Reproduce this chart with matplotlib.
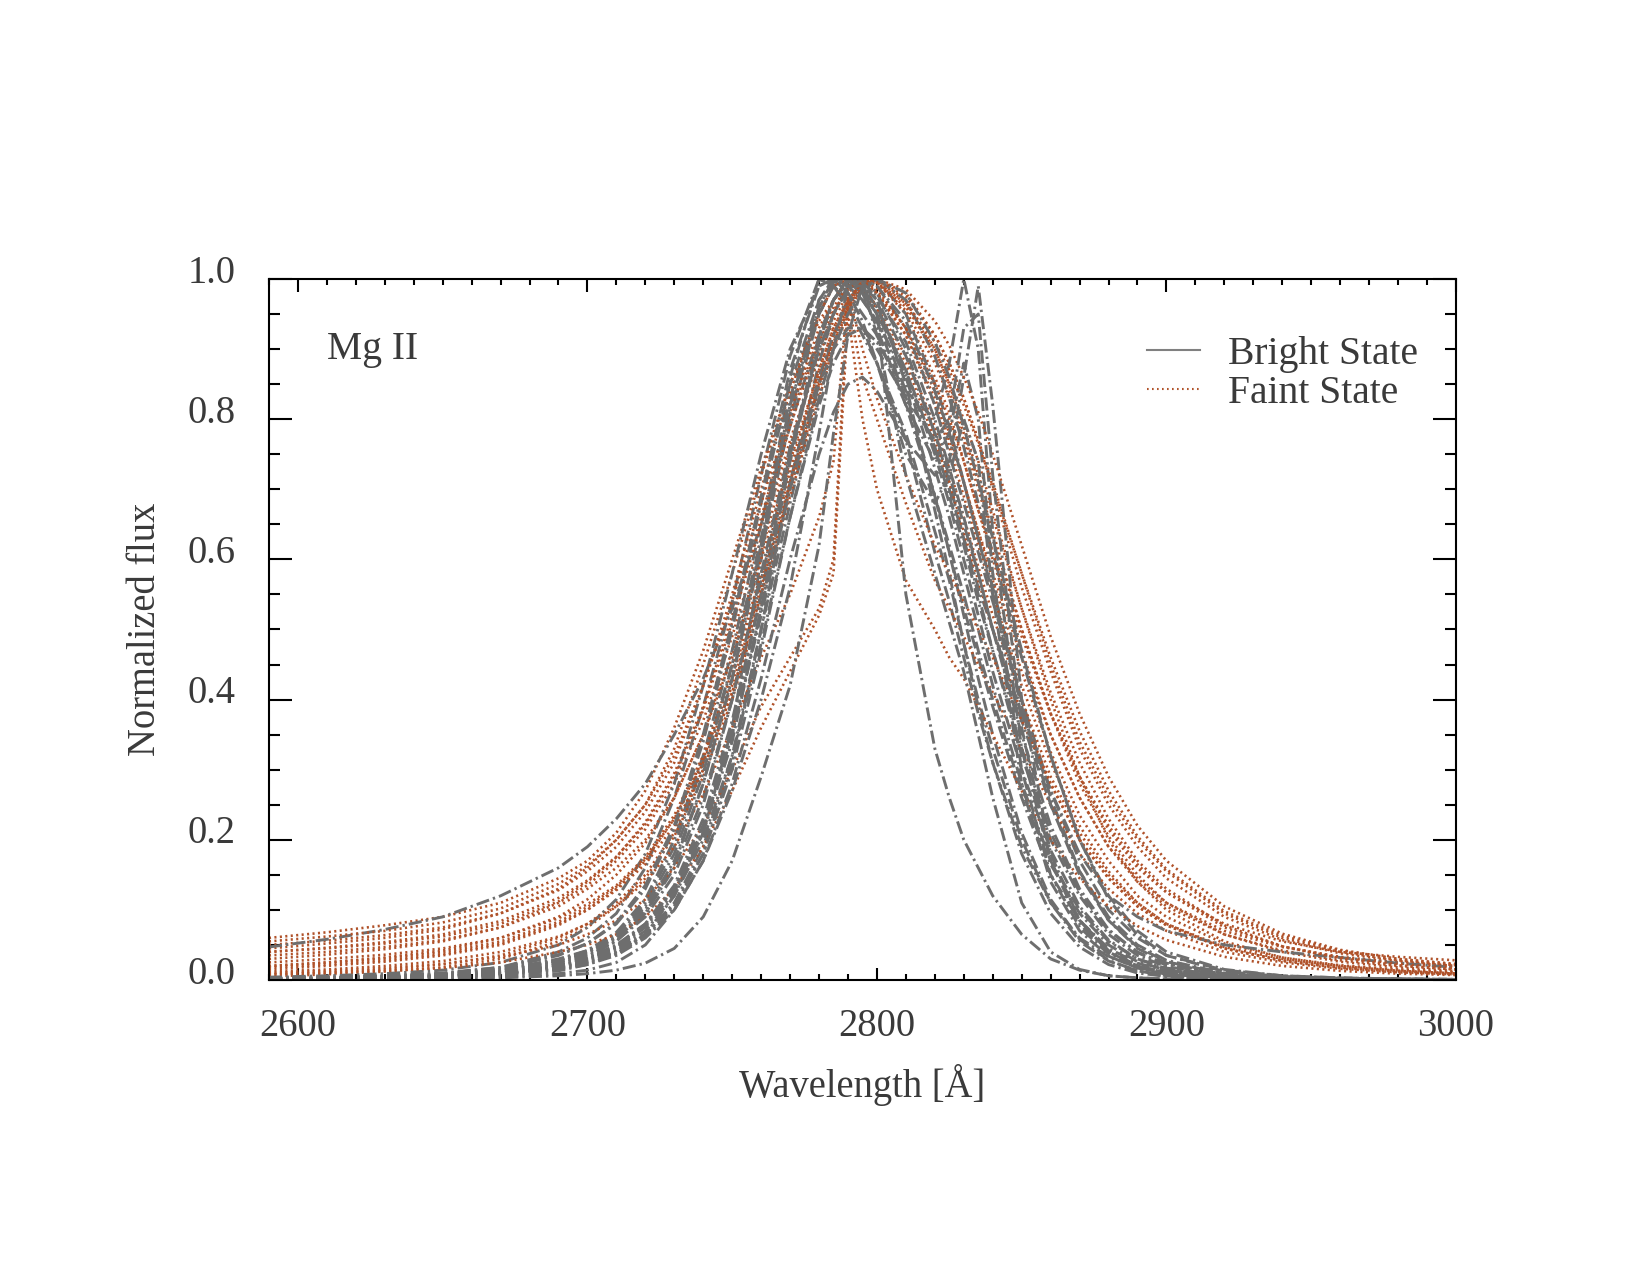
import matplotlib
matplotlib.use("Agg")
import matplotlib.pyplot as plt
from matplotlib.lines import Line2D
from matplotlib.ticker import MultipleLocator
from matplotlib.transforms import ScaledTranslation

plt.rcParams["font.family"] = ["Liberation Serif", "DejaVu Serif"]

GRAY = "#6e6e6e"
ORANGE = "#b0522a"
TEXT = "#3a3a3a"

# wavelength grid (Angstrom) shared by every profile
wave = [2590, 2610, 2630, 2650, 2670, 2690, 2700, 2710, 2720, 2730, 2740, 2750,
        2760, 2770, 2780, 2785, 2790, 2795, 2800, 2810, 2820, 2825, 2830, 2835,
        2840, 2850, 2860, 2870, 2880, 2890, 2900, 2920, 2940, 2960, 2980, 3000]

# bright state profiles (normalized flux)
b00 = [0.002, 0.003, 0.005, 0.008, 0.014, 0.03, 0.042, 0.065, 0.11, 0.19, 0.31, 0.45,
       0.62, 0.81, 0.95, 0.99, 1.0, 0.99, 0.96, 0.86, 0.73, 0.66, 0.58, 0.50,
       0.42, 0.28, 0.17, 0.10, 0.055, 0.03, 0.017, 0.006, 0.003, 0.0015, 0.001, 0.0005]
b01 = [0.002, 0.003, 0.005, 0.009, 0.018, 0.04, 0.06, 0.095, 0.16, 0.26, 0.39, 0.54,
       0.72, 0.89, 1.0, 0.99, 0.97, 0.93, 0.88, 0.77, 0.61, 0.54, 0.46, 0.38,
       0.31, 0.19, 0.11, 0.06, 0.033, 0.018, 0.01, 0.004, 0.002, 0.001, 0.0005, 0.0003]
b02 = [0.001, 0.002, 0.003, 0.005, 0.009, 0.018, 0.026, 0.04, 0.065, 0.11, 0.19, 0.32,
       0.50, 0.68, 0.85, 0.92, 0.97, 0.995, 1.0, 0.95, 0.85, 0.79, 0.71, 0.63,
       0.56, 0.40, 0.26, 0.155, 0.085, 0.045, 0.024, 0.008, 0.003, 0.0015, 0.001, 0.0005]
b03 = [0.002, 0.003, 0.004, 0.007, 0.013, 0.028, 0.042, 0.068, 0.115, 0.20, 0.32, 0.47,
       0.65, 0.83, 0.97, 1.0, 0.99, 0.97, 0.94, 0.83, 0.69, 0.61, 0.53, 0.46,
       0.39, 0.26, 0.15, 0.085, 0.045, 0.024, 0.013, 0.005, 0.002, 0.001, 0.0006, 0.0003]
b04 = [0.003, 0.004, 0.006, 0.009, 0.015, 0.028, 0.04, 0.06, 0.095, 0.16, 0.26, 0.40,
       0.57, 0.75, 0.90, 0.95, 0.99, 1.0, 0.99, 0.93, 0.82, 0.75, 0.68, 0.61,
       0.54, 0.40, 0.27, 0.17, 0.10, 0.06, 0.035, 0.014, 0.006, 0.003, 0.0015, 0.001]
b05 = [0.001, 0.001, 0.002, 0.003, 0.006, 0.013, 0.022, 0.037, 0.065, 0.12, 0.21, 0.36,
       0.60, 0.86, 1.0, 0.99, 0.96, 0.92, 0.88, 0.78, 0.64, 0.57, 0.48, 0.40,
       0.33, 0.20, 0.11, 0.055, 0.027, 0.013, 0.006, 0.002, 0.001, 0.0005, 0.0003, 0.0002]
b06 = [0.001, 0.002, 0.003, 0.004, 0.008, 0.016, 0.024, 0.038, 0.062, 0.105, 0.18, 0.31,
       0.50, 0.71, 0.88, 0.95, 0.99, 1.0, 0.98, 0.90, 0.78, 0.71, 0.63, 0.55,
       0.47, 0.32, 0.20, 0.12, 0.065, 0.035, 0.019, 0.007, 0.003, 0.0015, 0.001, 0.0005]
b07 = [0.004, 0.006, 0.009, 0.014, 0.025, 0.05, 0.075, 0.115, 0.18, 0.28, 0.42, 0.58,
       0.75, 0.90, 0.99, 1.0, 0.99, 0.97, 0.94, 0.86, 0.76, 0.70, 0.63, 0.56,
       0.50, 0.37, 0.25, 0.155, 0.09, 0.05, 0.028, 0.01, 0.004, 0.002, 0.001, 0.0006]
b08 = [0.002, 0.003, 0.004, 0.006, 0.011, 0.022, 0.032, 0.05, 0.08, 0.13, 0.215, 0.35,
       0.53, 0.71, 0.86, 0.92, 0.965, 0.99, 1.0, 0.97, 0.89, 0.83, 0.76, 0.68,
       0.61, 0.46, 0.32, 0.20, 0.12, 0.07, 0.04, 0.015, 0.006, 0.003, 0.0015, 0.001]
b09 = [0.002, 0.002, 0.003, 0.005, 0.01, 0.022, 0.034, 0.055, 0.095, 0.165, 0.28, 0.43,
       0.61, 0.80, 0.95, 0.99, 1.0, 0.98, 0.95, 0.84, 0.69, 0.61, 0.52, 0.43,
       0.35, 0.21, 0.115, 0.058, 0.028, 0.013, 0.006, 0.002, 0.001, 0.0005, 0.0003, 0.0002]
b10 = [0.047, 0.058, 0.072, 0.09, 0.12, 0.16, 0.19, 0.23, 0.28, 0.35, 0.43, 0.53,
       0.65, 0.79, 0.92, 0.97, 1.0, 0.99, 0.97, 0.89, 0.78, 0.72, 0.65, 0.58,
       0.50, 0.38, 0.27, 0.18, 0.12, 0.09, 0.07, 0.05, 0.04, 0.032, 0.024, 0.018]
b11 = [0.003, 0.004, 0.006, 0.01, 0.018, 0.036, 0.052, 0.08, 0.13, 0.215, 0.34, 0.50,
       0.68, 0.85, 0.97, 1.0, 0.995, 0.98, 0.95, 0.87, 0.76, 0.69, 0.62, 0.54,
       0.47, 0.33, 0.21, 0.125, 0.07, 0.04, 0.022, 0.008, 0.003, 0.0015, 0.001, 0.0005]
b12 = [0.002, 0.002, 0.003, 0.005, 0.01, 0.02, 0.03, 0.047, 0.078, 0.13, 0.22, 0.36,
       0.55, 0.75, 0.91, 0.97, 0.995, 1.0, 0.97, 0.85, 0.67, 0.58, 0.48, 0.39,
       0.31, 0.18, 0.095, 0.047, 0.022, 0.01, 0.005, 0.0015, 0.0008, 0.0004, 0.0002, 0.0001]
b19 = [0.002, 0.003, 0.004, 0.007, 0.012, 0.025, 0.036, 0.056, 0.09, 0.15, 0.25, 0.40,
       0.58, 0.76, 0.90, 0.95, 0.985, 1.0, 0.99, 0.94, 0.84, 0.78, 0.71, 0.63,
       0.55, 0.39, 0.25, 0.15, 0.085, 0.047, 0.026, 0.009, 0.004, 0.002, 0.001, 0.0005]
b20 = [0.002, 0.003, 0.005, 0.008, 0.016, 0.035, 0.052, 0.082, 0.135, 0.22, 0.35, 0.51,
       0.69, 0.87, 0.99, 1.0, 0.98, 0.95, 0.92, 0.82, 0.69, 0.62, 0.55, 0.47,
       0.40, 0.27, 0.165, 0.095, 0.05, 0.026, 0.014, 0.005, 0.002, 0.001, 0.0005, 0.0003]
b21 = [0.001, 0.002, 0.003, 0.005, 0.009, 0.019, 0.028, 0.045, 0.075, 0.125, 0.21, 0.34,
       0.53, 0.74, 0.91, 0.97, 1.0, 0.995, 0.975, 0.91, 0.80, 0.73, 0.66, 0.58,
       0.50, 0.35, 0.22, 0.13, 0.072, 0.039, 0.021, 0.007, 0.003, 0.0015, 0.001, 0.0005]
b23 = [0.002, 0.003, 0.004, 0.007, 0.013, 0.027, 0.04, 0.063, 0.105, 0.18, 0.295, 0.45,
       0.63, 0.82, 0.96, 0.995, 1.0, 0.985, 0.96, 0.87, 0.75, 0.68, 0.60, 0.52,
       0.44, 0.30, 0.185, 0.105, 0.057, 0.03, 0.016, 0.006, 0.0025, 0.0012, 0.0006, 0.0003]
b24 = [0.001, 0.002, 0.003, 0.004, 0.008, 0.017, 0.025, 0.04, 0.065, 0.108, 0.18, 0.30,
       0.47, 0.66, 0.83, 0.90, 0.95, 0.985, 1.0, 0.98, 0.91, 0.86, 0.79, 0.71,
       0.63, 0.47, 0.32, 0.20, 0.115, 0.064, 0.035, 0.012, 0.005, 0.0025, 0.0012, 0.0006]
# bright profiles with a second narrow peak near 2830 A
b13 = [0.001, 0.002, 0.003, 0.005, 0.009, 0.018, 0.027, 0.042, 0.07, 0.12, 0.20, 0.32,
       0.48, 0.66, 0.82, 0.88, 0.92, 0.93, 0.91, 0.84, 0.80, 0.88, 1.0, 0.90,
       0.64, 0.33, 0.17, 0.085, 0.042, 0.02, 0.01, 0.004, 0.002, 0.001, 0.0005, 0.0003]
b14 = [0.001, 0.002, 0.003, 0.004, 0.007, 0.015, 0.022, 0.035, 0.06, 0.10, 0.17, 0.28,
       0.43, 0.60, 0.75, 0.81, 0.85, 0.86, 0.84, 0.77, 0.72, 0.74, 0.86, 0.99,
       0.82, 0.40, 0.18, 0.085, 0.04, 0.02, 0.01, 0.004, 0.002, 0.001, 0.0005, 0.0003]
b15 = [0.002, 0.002, 0.003, 0.005, 0.01, 0.02, 0.03, 0.048, 0.08, 0.135, 0.23, 0.37,
       0.55, 0.75, 0.92, 0.97, 1.0, 0.98, 0.93, 0.82, 0.74, 0.78, 0.88, 0.80,
       0.58, 0.30, 0.15, 0.075, 0.037, 0.018, 0.009, 0.003, 0.0015, 0.001, 0.0005, 0.0003]
b16 = [0.002, 0.003, 0.004, 0.006, 0.012, 0.025, 0.038, 0.06, 0.10, 0.17, 0.28, 0.43,
       0.62, 0.82, 0.96, 1.0, 0.98, 0.94, 0.88, 0.75, 0.68, 0.72, 0.80, 0.74,
       0.55, 0.28, 0.14, 0.07, 0.034, 0.017, 0.008, 0.003, 0.0015, 0.001, 0.0005, 0.0003]
b22 = [0.001, 0.002, 0.003, 0.005, 0.009, 0.019, 0.029, 0.046, 0.077, 0.13, 0.22, 0.35,
       0.52, 0.70, 0.85, 0.90, 0.93, 0.93, 0.90, 0.83, 0.77, 0.80, 0.93, 0.95,
       0.72, 0.36, 0.17, 0.08, 0.04, 0.02, 0.01, 0.004, 0.002, 0.001, 0.0005, 0.0003]
# narrow bright profiles
b17 = [0.0, 0.001, 0.001, 0.002, 0.004, 0.009, 0.014, 0.025, 0.05, 0.10, 0.17, 0.27,
       0.40, 0.56, 0.78, 0.90, 0.99, 0.99, 0.92, 0.72, 0.58, 0.51, 0.44, 0.35,
       0.26, 0.11, 0.04, 0.015, 0.006, 0.003, 0.0015, 0.0005, 0.0002, 0.0001, 0.0, 0.0]
b18 = [0.0, 0.0005, 0.001, 0.0015, 0.003, 0.006, 0.009, 0.014, 0.024, 0.045, 0.09, 0.17,
       0.29, 0.42, 0.62, 0.78, 0.92, 0.99, 0.95, 0.55, 0.33, 0.26, 0.20, 0.16,
       0.12, 0.065, 0.03, 0.014, 0.006, 0.003, 0.0015, 0.0005, 0.0002, 0.0001, 0.0, 0.0]

# faint state profiles (normalized flux)
f01 = [0.03, 0.036, 0.044, 0.055, 0.075, 0.11, 0.135, 0.17, 0.215, 0.28, 0.37, 0.49,
       0.63, 0.77, 0.89, 0.94, 0.98, 1.0, 0.995, 0.95, 0.86, 0.81, 0.74, 0.67,
       0.60, 0.47, 0.35, 0.26, 0.19, 0.14, 0.105, 0.065, 0.042, 0.028, 0.02, 0.015]
f02 = [0.06, 0.068, 0.078, 0.09, 0.11, 0.145, 0.17, 0.21, 0.27, 0.36, 0.47, 0.60,
       0.73, 0.85, 0.94, 0.97, 1.0, 0.995, 0.98, 0.92, 0.83, 0.77, 0.71, 0.64,
       0.58, 0.46, 0.35, 0.26, 0.19, 0.145, 0.11, 0.07, 0.047, 0.033, 0.025, 0.02]
f03 = [0.008, 0.011, 0.015, 0.022, 0.035, 0.06, 0.08, 0.11, 0.15, 0.21, 0.30, 0.41,
       0.55, 0.70, 0.84, 0.90, 0.95, 0.99, 1.0, 0.97, 0.90, 0.85, 0.79, 0.72,
       0.66, 0.53, 0.40, 0.29, 0.20, 0.14, 0.10, 0.055, 0.032, 0.02, 0.013, 0.009]
f04 = [0.02, 0.025, 0.032, 0.042, 0.06, 0.09, 0.115, 0.15, 0.195, 0.26, 0.35, 0.47,
       0.61, 0.76, 0.89, 0.95, 0.99, 1.0, 0.98, 0.92, 0.82, 0.76, 0.69, 0.62,
       0.55, 0.42, 0.31, 0.22, 0.155, 0.11, 0.08, 0.045, 0.027, 0.017, 0.012, 0.008]
f05 = [0.015, 0.02, 0.026, 0.035, 0.05, 0.078, 0.10, 0.13, 0.17, 0.23, 0.315, 0.43,
       0.57, 0.72, 0.86, 0.92, 0.96, 0.99, 1.0, 0.98, 0.92, 0.88, 0.83, 0.77,
       0.70, 0.56, 0.44, 0.33, 0.25, 0.19, 0.145, 0.09, 0.057, 0.038, 0.027, 0.02]
f06 = [0.045, 0.052, 0.06, 0.072, 0.095, 0.13, 0.16, 0.20, 0.25, 0.33, 0.45, 0.58,
       0.72, 0.85, 0.95, 0.99, 1.0, 0.99, 0.96, 0.89, 0.79, 0.73, 0.66, 0.59,
       0.52, 0.40, 0.29, 0.21, 0.15, 0.11, 0.08, 0.047, 0.03, 0.02, 0.014, 0.01]
f07 = [0.005, 0.008, 0.012, 0.018, 0.03, 0.055, 0.075, 0.105, 0.145, 0.205, 0.29, 0.40,
       0.54, 0.69, 0.83, 0.90, 0.96, 1.0, 0.995, 0.955, 0.88, 0.83, 0.77, 0.70,
       0.63, 0.50, 0.38, 0.29, 0.215, 0.16, 0.125, 0.08, 0.055, 0.04, 0.033, 0.028]
f08 = [0.04, 0.045, 0.052, 0.062, 0.08, 0.112, 0.14, 0.175, 0.225, 0.295, 0.39, 0.52,
       0.66, 0.80, 0.92, 0.96, 0.99, 1.0, 0.985, 0.93, 0.84, 0.78, 0.71, 0.64,
       0.57, 0.44, 0.325, 0.235, 0.17, 0.12, 0.09, 0.052, 0.032, 0.021, 0.015, 0.011]
f09 = [0.025, 0.03, 0.036, 0.045, 0.06, 0.088, 0.108, 0.135, 0.175, 0.235, 0.32, 0.44,
       0.58, 0.73, 0.87, 0.93, 0.97, 0.995, 1.0, 0.965, 0.89, 0.84, 0.78, 0.71,
       0.64, 0.50, 0.38, 0.28, 0.205, 0.15, 0.11, 0.065, 0.04, 0.026, 0.018, 0.013]
f10 = [0.05, 0.056, 0.064, 0.075, 0.095, 0.128, 0.155, 0.19, 0.24, 0.31, 0.42, 0.55,
       0.70, 0.84, 0.95, 0.99, 1.0, 0.985, 0.955, 0.88, 0.77, 0.71, 0.64, 0.57,
       0.50, 0.38, 0.28, 0.20, 0.145, 0.105, 0.078, 0.045, 0.028, 0.018, 0.013, 0.009]
f14 = [0.035, 0.04, 0.047, 0.057, 0.075, 0.105, 0.13, 0.16, 0.20, 0.26, 0.35, 0.46,
       0.60, 0.74, 0.87, 0.93, 0.97, 0.995, 1.0, 0.975, 0.92, 0.88, 0.83, 0.77,
       0.71, 0.58, 0.45, 0.34, 0.26, 0.20, 0.155, 0.095, 0.06, 0.04, 0.028, 0.021]
f15 = [0.018, 0.022, 0.028, 0.037, 0.052, 0.08, 0.10, 0.128, 0.165, 0.22, 0.30, 0.41,
       0.55, 0.70, 0.85, 0.91, 0.96, 1.0, 0.995, 0.96, 0.90, 0.85, 0.80, 0.74,
       0.67, 0.53, 0.41, 0.31, 0.23, 0.17, 0.13, 0.078, 0.048, 0.031, 0.021, 0.015]
f16 = [0.055, 0.062, 0.07, 0.082, 0.102, 0.137, 0.163, 0.20, 0.25, 0.32, 0.42, 0.54,
       0.68, 0.81, 0.93, 0.97, 1.0, 0.995, 0.98, 0.93, 0.85, 0.80, 0.74, 0.67,
       0.61, 0.49, 0.38, 0.29, 0.22, 0.165, 0.125, 0.075, 0.048, 0.032, 0.023, 0.017]
f17 = [0.02, 0.025, 0.031, 0.04, 0.055, 0.083, 0.104, 0.133, 0.172, 0.23, 0.31, 0.42,
       0.56, 0.71, 0.85, 0.91, 0.955, 0.99, 1.0, 0.985, 0.94, 0.905, 0.86, 0.81,
       0.75, 0.62, 0.49, 0.38, 0.29, 0.22, 0.17, 0.105, 0.066, 0.043, 0.03, 0.022]
f18 = [0.04, 0.046, 0.054, 0.065, 0.084, 0.117, 0.142, 0.176, 0.222, 0.29, 0.385, 0.51,
       0.65, 0.79, 0.91, 0.955, 0.985, 1.0, 0.995, 0.965, 0.91, 0.87, 0.82, 0.765,
       0.705, 0.58, 0.46, 0.355, 0.27, 0.205, 0.158, 0.098, 0.063, 0.042, 0.03, 0.023]
# faint profiles with a narrow core on a broad base
f11 = [0.01, 0.013, 0.017, 0.023, 0.033, 0.05, 0.065, 0.085, 0.115, 0.16, 0.22, 0.30,
       0.39, 0.46, 0.53, 0.60, 0.97, 0.86, 0.80, 0.68, 0.57, 0.53, 0.49, 0.45,
       0.41, 0.33, 0.25, 0.18, 0.13, 0.095, 0.07, 0.04, 0.025, 0.016, 0.011, 0.008]
f12 = [0.008, 0.01, 0.013, 0.017, 0.025, 0.04, 0.05, 0.065, 0.09, 0.13, 0.19, 0.27,
       0.36, 0.44, 0.52, 0.58, 0.95, 0.80, 0.70, 0.57, 0.50, 0.46, 0.43, 0.39,
       0.35, 0.27, 0.20, 0.145, 0.105, 0.077, 0.057, 0.033, 0.02, 0.013, 0.009, 0.007]
f13 = [0.012, 0.015, 0.02, 0.027, 0.04, 0.062, 0.08, 0.105, 0.14, 0.19, 0.265, 0.36,
       0.46, 0.55, 0.66, 0.74, 0.98, 0.90, 0.83, 0.72, 0.62, 0.58, 0.54, 0.50,
       0.46, 0.37, 0.28, 0.20, 0.145, 0.105, 0.078, 0.045, 0.028, 0.018, 0.012, 0.009]

bright = [b00, b01, b02, b03, b04, b05, b06, b07, b08, b09, b10, b11, b12,
          b13, b14, b15, b16, b17, b18, b19, b20, b21, b22, b23, b24]
faint = [f01, f02, f03, f04, f05, f06, f07, f08, f09, f10, f11, f12,
         f13, f14, f15, f16, f17, f18]

fig = plt.figure(figsize=(11, 8.5), dpi=150)
ax = fig.add_axes([0.163, 0.2314, 0.7194, 0.5498])

# alternate the two states so neither one sits fully on top
for i in range(max(len(bright), len(faint))):
    if i < len(faint):
        ax.plot(wave, faint[i], color=ORANGE, lw=1.25, dashes=(0.8, 1.3))
    if i < len(bright):
        ax.plot(wave, bright[i], color=GRAY, lw=1.4, dashes=(4.5, 1.4, 0.8, 1.4))

ax.set_xlim(2590, 3000)
ax.set_ylim(0, 1)

ax.xaxis.set_major_locator(MultipleLocator(100))
ax.xaxis.set_minor_locator(MultipleLocator(10))
ax.yaxis.set_major_locator(MultipleLocator(0.2))
ax.yaxis.set_minor_locator(MultipleLocator(0.05))
ax.yaxis.set_major_formatter(plt.FormatStrFormatter("%.1f"))

ax.tick_params(axis="both", which="both", direction="in", top=True, right=True,
               colors="black", labelcolor=TEXT, labelsize=18.5, width=1.0)
ax.tick_params(axis="x", which="major", length=6, pad=13.5)
ax.tick_params(axis="x", which="minor", length=3)
ax.tick_params(axis="y", which="major", length=11, pad=16)
ax.tick_params(axis="y", which="minor", length=5.5)
for lab in ax.get_yticklabels():
    lab.set_transform(lab.get_transform() + ScaledTranslation(0, 5 / 72, fig.dpi_scale_trans))

for sp in ax.spines.values():
    sp.set_linewidth(1.0)

ax.set_xlabel("Wavelength [Å]", fontsize=18.5, color=TEXT, labelpad=9)
ax.set_ylabel("Normalized flux", fontsize=18.5, color=TEXT, labelpad=11.5)

ax.text(0.049, 0.899, "Mg II", transform=ax.transAxes, fontsize=19,
        color=TEXT, va="center", ha="left")

handles = [Line2D([], [], color="#808080", lw=1.0),
           Line2D([], [], color=ORANGE, lw=1.0, dashes=(0.8, 1.6))]
ax.legend(handles, ["Bright State", "Faint State"], loc="upper right",
          bbox_to_anchor=(0.998, 0.969), frameon=False, fontsize=19,
          handlelength=1.35, handletextpad=0.7, labelspacing=0.05,
          labelcolor=TEXT)

fig.savefig("out.png", dpi=150)
